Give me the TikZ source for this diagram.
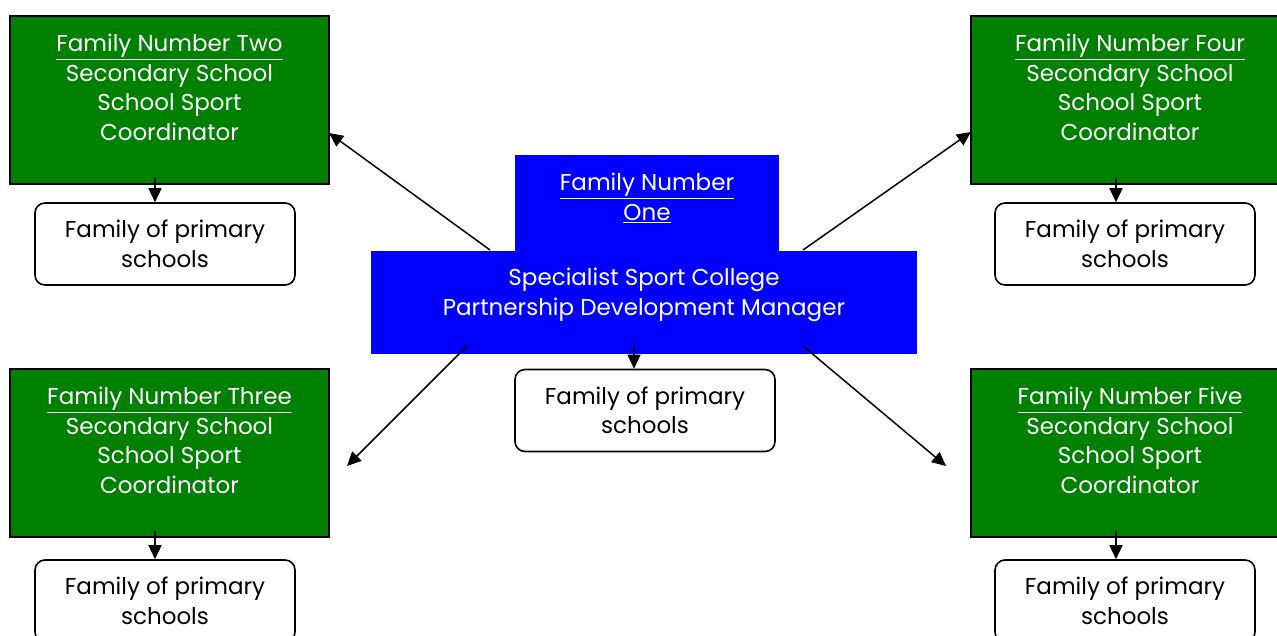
\documentclass[tikz,border=0pt]{standalone}
\usepackage{fontspec}
\setmainfont{Poppins}
\usepackage{tikz}
\usetikzlibrary{arrows.meta}
\definecolor{famgreen}{RGB}{0,128,0}
\definecolor{pdmblue}{RGB}{0,0,255}
\tikzset{
  boxfont/.style={font=\fontsize{23}{29.5}\selectfont, align=center},
  greenbox/.style={draw=black, line width=2pt, fill=famgreen, inner sep=0pt, minimum width=319pt, minimum height=168pt},
  bluebox/.style={fill=pdmblue, inner sep=0pt},
  whitetext/.style={boxfont, text=white, inner sep=0pt},
  primbox/.style={boxfont, draw=black, line width=1.6pt, rounded corners=10pt, fill=white, minimum width=260pt, minimum height=82pt, inner sep=0pt},
  arr/.style={-{Triangle[length=14pt,width=13pt]}, line width=1.5pt}
}
\begin{document}
\begin{tikzpicture}[x=1pt,y=-1pt]
		\useasboundingbox (0,0) rectangle (1277,635);
		% centre
		\node[bluebox, minimum width=264pt, minimum height=97pt] (fam1) at (647,203) {};
		\node[bluebox, minimum width=546pt, minimum height=103pt] (pdm) at (644,302.5) {};
		\node[whitetext, anchor=north] (t1) at (647,173) {\underline{Family Number}\\\underline{One}};
		\node[whitetext, anchor=north] (tpdm) at (644,268) {Specialist Sport College\\Partnership Development Manager};
		\node[primbox] (p1) at (645,410.5) {Family of primary\\schools};
		%
		\node[greenbox] (f2) at (169.5,100) {};
		\node[whitetext, anchor=north] (t2) at (169.5,34) {\underline{Family Number Two}\\Secondary School\\School Sport\\Coordinator};
		\node[primbox] (p2) at (165,244) {Family of primary\\schools};
		%
		\node[greenbox] (f4) at (1130.5,100) {};
		\node[whitetext, anchor=north] (t4) at (1130,34) {\underline{Family Number Four}\\Secondary School\\School Sport\\Coordinator};
		\node[primbox] (p4) at (1125,244) {Family of primary\\schools};
		%
		\node[greenbox] (f3) at (169.5,453) {};
		\node[whitetext, anchor=north] (t3) at (169.5,387) {\underline{Family Number Three}\\Secondary School\\School Sport\\Coordinator};
		\node[primbox] (p3) at (165,601) {Family of primary\\schools};
		%
		\node[greenbox] (f5) at (1130.5,453) {};
		\node[whitetext, anchor=north] (t5) at (1130,387) {\underline{Family Number Five}\\Secondary School\\School Sport\\Coordinator};
		\node[primbox] (p5) at (1125,601) {Family of primary\\schools};
		%
		\coordinate (s2) at (490,250);
		\coordinate (e2) at (329,133);
		\coordinate (s4) at (803,250);
		\coordinate (e4) at (971,132);
		\coordinate (s3) at (467,346);
		\coordinate (e3) at (347,466);
		\coordinate (s5) at (803,346);
		\coordinate (e5) at (946,466);
		\coordinate (s1) at (634,346);
		\coordinate (d2) at (155,178);
		\coordinate (d4) at (1116,178);
		\coordinate (d3) at (155,531);
		\coordinate (d5) at (1116,531);
		%
		\path[arr]
		(s2) edge (e2)
		(s4) edge (e4)
		(s3) edge (e3)
		(s5) edge (e5)
		(s1) edge (s1 |- p1.north)
		(d2) edge (d2 |- p2.north)
		(d4) edge (d4 |- p4.north)
		(d3) edge (d3 |- p3.north)
		(d5) edge (d5 |- p5.north);
\end{tikzpicture}
\end{document}
